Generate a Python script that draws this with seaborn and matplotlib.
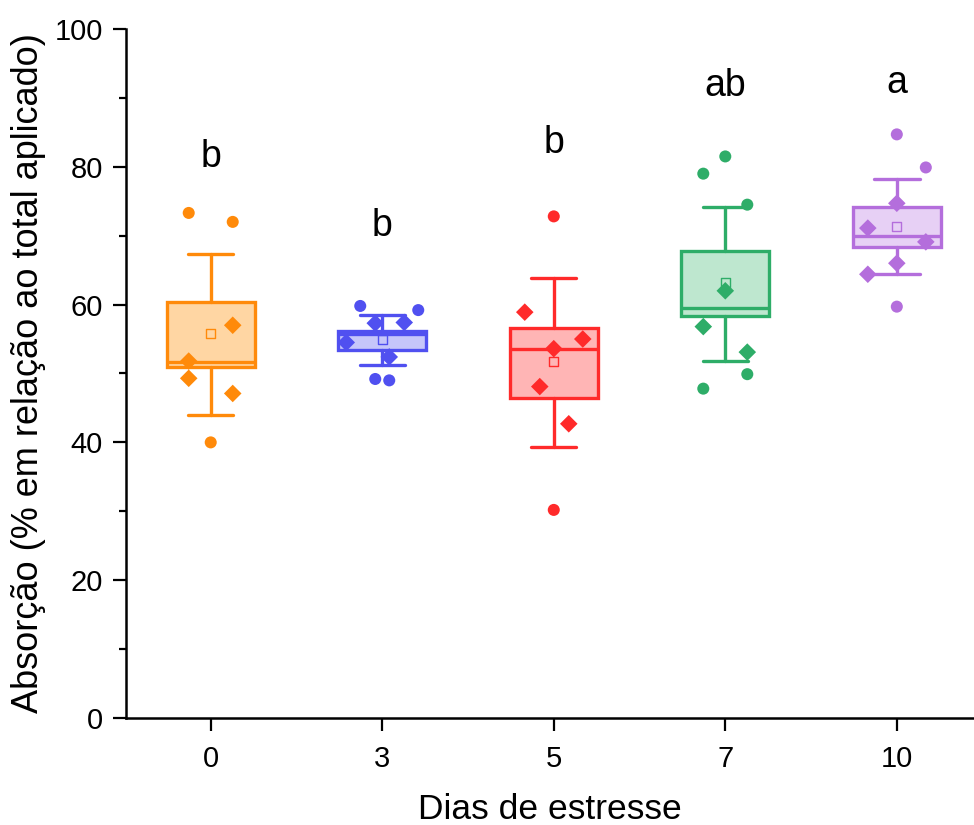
import numpy as np
import pandas as pd
import matplotlib
matplotlib.use("Agg")
import matplotlib.pyplot as plt
import seaborn as sns

# ---------------- data ----------------
days = ["0", "3", "5", "7", "10"]
letters = ["b", "b", "b", "ab", "a"]
letter_y = [80.0, 70.0, 82.0, 90.3, 90.7]

# box statistics
whisker_low = [44.0, 51.2, 39.3, 51.8, 64.4]
q1 = [51.0, 53.4, 46.5, 58.4, 68.4]
median = [51.7, 55.8, 53.6, 59.5, 70.0]
q3 = [60.4, 56.2, 56.6, 67.8, 74.1]
whisker_high = [67.3, 58.5, 63.9, 74.2, 78.2]
means = [55.8, 54.9, 51.7, 63.2, 71.3]

# individual observations
vals_0 = [73.3, 72.0, 57.0, 51.8, 49.3, 47.1, 40.0]
kind_0 = ["o", "o", "D", "D", "D", "D", "o"]
jit_0 = [-22, 22, 22, -22, -22, 22, 0]

vals_3 = [59.8, 59.2, 57.3, 57.4, 54.5, 52.4, 49.2, 49.0]
kind_3 = ["o", "o", "D", "D", "D", "D", "o", "o"]
jit_3 = [-22, 36, -7, 22, -36, 7, -7, 7]

vals_5 = [72.8, 58.9, 55.0, 53.6, 48.1, 42.7, 30.2]
kind_5 = ["o", "D", "D", "D", "D", "D", "o"]
jit_5 = [0, -29, 29, 0, -14, 15, 0]

vals_7 = [81.5, 79.0, 74.5, 62.0, 56.8, 53.1, 49.9, 47.8]
kind_7 = ["o", "o", "o", "D", "D", "D", "o", "o"]
jit_7 = [0, -22, 22, 0, -22, 22, 22, -22]

vals_10 = [84.7, 79.9, 74.7, 71.1, 69.1, 66.0, 64.4, 59.7]
kind_10 = ["o", "o", "D", "D", "D", "D", "D", "o"]
jit_10 = [0, 29, 0, -29, 29, 0, -29, 0]

# ---------------- styling ----------------
edge_colors = ["#FF8A0A", "#5050F0", "#FF2A2A", "#2EAD68", "#B46EDC"]
fill_colors = ["#FFD6A3", "#C6C6FA", "#FFB5B5", "#BEE7CF", "#E7D0F5"]

sns.set_style("ticks")
plt.rcParams["font.family"] = ["Liberation Sans", "DejaVu Sans"]
plt.rcParams["text.color"] = "black"
plt.rcParams["axes.labelcolor"] = "black"
plt.rcParams["xtick.color"] = "black"
plt.rcParams["ytick.color"] = "black"

fig = plt.figure(figsize=(9.74, 8.25), dpi=100)
ax = fig.add_axes([0.129, 0.1297, 0.871, 0.8352])

# boxes
stats = []
for i in range(len(days)):
    stats.append(dict(whislo=whisker_low[i], q1=q1[i], med=median[i],
                      q3=q3[i], whishi=whisker_high[i], mean=means[i],
                      fliers=[], label=days[i]))
pos = np.arange(len(days))
for i in range(len(days)):
    ec = edge_colors[i]
    ax.bxp([stats[i]], positions=[pos[i]], widths=0.515, patch_artist=True,
           showmeans=False, showfliers=False,
           boxprops=dict(facecolor=fill_colors[i], edgecolor=ec, linewidth=2.4),
           medianprops=dict(color=ec, linewidth=2.4),
           whiskerprops=dict(color=ec, linewidth=2.4),
           capprops=dict(color=ec, linewidth=2.4),
           capwidths=0.265, zorder=2)

# mean markers
mean_df = pd.DataFrame({"x": pos, "y": means, "day": days})
sns.scatterplot(data=mean_df, x="x", y="y", hue="day", palette=edge_colors,
                marker="s", s=45, linewidth=1.0,
                legend=False, ax=ax, zorder=4)
mean_coll = ax.collections[-1]
mean_coll.set_facecolor("none")
mean_coll.set_edgecolor(edge_colors)

# observations
all_vals = [vals_0, vals_3, vals_5, vals_7, vals_10]
all_kind = [kind_0, kind_3, kind_5, kind_7, kind_10]
all_jit = [jit_0, jit_3, jit_5, jit_7, jit_10]
rows = []
for i, (v, k, j) in enumerate(zip(all_vals, all_kind, all_jit)):
    for vv, kk, jj in zip(v, k, j):
        rows.append(dict(day=days[i], x=i + jj / 171.5, y=vv, kind=kk))
pts = pd.DataFrame(rows)
sns.scatterplot(data=pts, x="x", y="y", hue="day", palette=edge_colors,
                style="kind", markers={"o": "o", "D": "D"},
                size="kind", sizes={"o": 75, "D": 80},
                linewidth=0, legend=False, ax=ax, zorder=5)

# significance letters
for i in range(len(days)):
    ax.text(pos[i], letter_y[i], letters[i], ha="center", va="baseline",
            fontsize=27, color="black")

# axes
ax.set_xlim(-0.496, 4.45)
ax.set_ylim(0, 100)
ax.set_xticks(pos)
ax.set_xticklabels(days)
ax.set_yticks(np.arange(0, 101, 20))
ax.set_yticks(np.arange(10, 100, 20), minor=True)
ax.set_xlabel("Dias de estresse", fontsize=25.5, labelpad=14)
ax.set_ylabel("Absorção (% em relação ao total aplicado)", fontsize=26, labelpad=6)
ax.tick_params(axis="both", which="major", labelsize=21, length=9.5, width=1.6,
               direction="out", color="black")
ax.tick_params(axis="x", which="major", pad=10)
ax.tick_params(axis="y", which="major", pad=7)
ax.tick_params(axis="y", which="minor", length=5, width=1.6, direction="out")
for s in ["top", "right"]:
    ax.spines[s].set_visible(False)
for s in ["left", "bottom"]:
    ax.spines[s].set_linewidth(1.8)
    ax.spines[s].set_color("black")

fig.savefig("out.png", dpi=100)
